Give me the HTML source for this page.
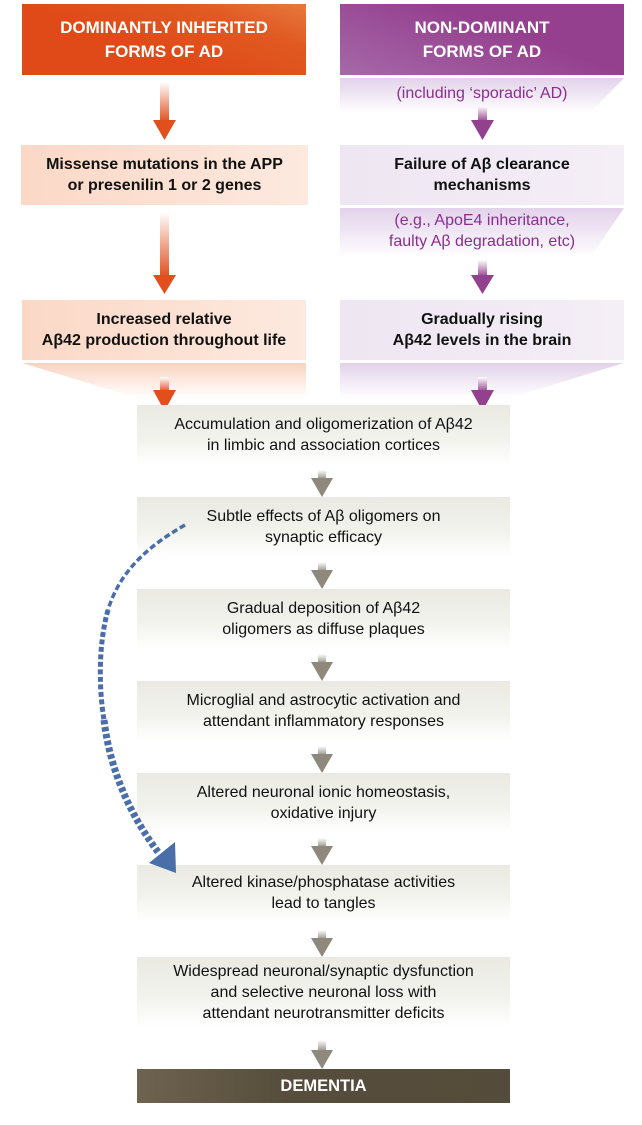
<!DOCTYPE html>
<html><head><meta charset="utf-8"><style>
body{margin:0;width:642px;height:1125px;background:#fff;position:relative;font-family:"Liberation Sans",Arial,sans-serif;overflow:hidden}
.a{position:absolute;box-sizing:border-box;text-align:center;display:flex;align-items:center;justify-content:center;flex-direction:column}
.hd{color:#fff;font-weight:bold;font-size:17px;line-height:24px}
.bx{font-weight:bold;font-size:16px;line-height:21px;color:#111}
.cb{left:137px;width:373px;font-size:16px;line-height:21px;color:#111;background:linear-gradient(#eaeae3,#f3f3ee 60%,#fff)}
.pv{color:#8a2f8f;font-size:16px;line-height:21px}
</style></head><body>
<div class="a hd" style="left:22px;top:4px;width:284px;height:71px;background:linear-gradient(200deg,#e8783e 0%,#e05a22 25%,#df4a18 60%)">DOMINANTLY INHERITED<br>FORMS OF AD</div>
<div class="a hd" style="left:340px;top:4px;width:284px;height:71px;background:linear-gradient(200deg,#95408f 40%,#a669a8 100%)">NON-DOMINANT<br>FORMS OF AD</div>

<svg style="position:absolute;left:0;top:0" width="642" height="1125">
<defs>
<linearGradient id="pf" x1="0" y1="0" x2="0" y2="1"><stop offset="0" stop-color="#e2d2ea"/><stop offset="1" stop-color="#fff"/></linearGradient>
<linearGradient id="of" x1="0" y1="0" x2="0" y2="1"><stop offset="0" stop-color="#f9d3c0"/><stop offset="1" stop-color="#fff"/></linearGradient>
<linearGradient id="os" x1="0" y1="0" x2="0" y2="1"><stop offset="0" stop-color="#fff"/><stop offset="1" stop-color="#e14f1d"/></linearGradient>
<linearGradient id="ps" x1="0" y1="0" x2="0" y2="1"><stop offset="0" stop-color="#fff"/><stop offset="1" stop-color="#93418e"/></linearGradient>
<linearGradient id="gs" x1="0" y1="0" x2="0" y2="1"><stop offset="0" stop-color="#fff"/><stop offset="1" stop-color="#8e897c"/></linearGradient>
</defs>
<polygon points="340,78 624,78 590,113 340,113" fill="url(#pf)"/>
<polygon points="340,208 624,208 590,258 340,258" fill="url(#pf)"/>
<polygon points="22,363 306,363 306,398 137,398" fill="url(#of)"/>
<polygon points="340,363 624,363 510,398 340,398" fill="url(#pf)"/>
<rect x="160" y="82" width="9" height="40" fill="url(#os)"/><polygon points="153,120 176,120 164.5,140" fill="#e14f1d"/>
<rect x="160" y="212" width="9" height="65" fill="url(#os)"/><polygon points="153,275 176,275 164.5,294" fill="#e14f1d"/>
<rect x="160" y="377" width="9" height="15" fill="url(#os)"/><polygon points="153,390 176,390 164.5,411" fill="#e14f1d"/>
<rect x="478" y="106" width="9" height="16" fill="url(#ps)"/><polygon points="471,120 494,120 482.5,140" fill="#93418e"/>
<rect x="478" y="260" width="9" height="17" fill="url(#ps)"/><polygon points="471,275 494,275 482.5,294" fill="#93418e"/>
<rect x="478" y="377" width="9" height="15" fill="url(#ps)"/><polygon points="471,390 494,390 482.5,411" fill="#93418e"/>
</svg>

<div class="a pv" style="left:340px;top:78px;width:284px;height:30px">(including ‘sporadic’ AD)</div>
<div class="a bx" style="left:21px;top:145px;width:287px;height:60px;background:linear-gradient(90deg,#fbd8c6,#fde9df)">Missense mutations in the APP<br>or presenilin 1 or 2 genes</div>
<div class="a bx" style="left:340px;top:145px;width:284px;height:60px;background:linear-gradient(90deg,#eee6f2,#f4eef7)">Failure of Aβ clearance<br>mechanisms</div>
<div class="a pv" style="left:340px;top:208px;width:284px;height:46px">(e.g., ApoE4 inheritance,<br>faulty Aβ degradation, etc)</div>
<div class="a bx" style="left:22px;top:300px;width:284px;height:60px;background:linear-gradient(90deg,#fbd8c6,#fde9df)">Increased relative<br>Aβ42 production throughout life</div>
<div class="a bx" style="left:340px;top:300px;width:284px;height:60px;background:linear-gradient(90deg,#eee6f2,#f4eef7)">Gradually rising<br>Aβ42 levels in the brain</div>

<div class="a cb" style="top:405px;height:60px">Accumulation and oligomerization of Aβ42<br>in limbic and association cortices</div>
<div class="a cb" style="top:497px;height:60px">Subtle effects of Aβ oligomers on<br>synaptic efficacy</div>
<div class="a cb" style="top:589px;height:60px">Gradual deposition of Aβ42<br>oligomers as diffuse plaques</div>
<div class="a cb" style="top:681px;height:60px">Microglial and astrocytic activation and<br>attendant inflammatory responses</div>
<div class="a cb" style="top:773px;height:60px">Altered neuronal ionic homeostasis,<br>oxidative injury</div>
<div class="a cb" style="top:865px;height:56px">Altered kinase/phosphatase activities<br>lead to tangles</div>
<div class="a cb" style="top:957px;height:70px">Widespread neuronal/synaptic dysfunction<br>and selective neuronal loss with<br>attendant neurotransmitter deficits</div>
<div class="a" style="left:137px;top:1069px;width:373px;height:34px;background:linear-gradient(90deg,#6e6350,#574d3c 40%,#554b3a);color:#fff;font-weight:bold;font-size:16.5px">DEMENTIA</div>

<svg style="position:absolute;left:0;top:0" width="642" height="1125">
<g fill="#8e897c">
<rect x="318" y="470" width="8" height="10" fill="url(#gs)"/><polygon points="311,478 333,478 322,497"/>
<rect x="318" y="562" width="8" height="10" fill="url(#gs)"/><polygon points="311,570 333,570 322,589"/>
<rect x="318" y="654" width="8" height="10" fill="url(#gs)"/><polygon points="311,662 333,662 322,681"/>
<rect x="318" y="746" width="8" height="10" fill="url(#gs)"/><polygon points="311,754 333,754 322,773"/>
<rect x="318" y="838" width="8" height="10" fill="url(#gs)"/><polygon points="311,846 333,846 322,865"/>
<rect x="318" y="930" width="8" height="10" fill="url(#gs)"/><polygon points="311,938 333,938 322,957"/>
<rect x="318" y="1040" width="8" height="12" fill="url(#gs)"/><polygon points="311,1050 333,1050 322,1069"/>
</g>
<g fill="none" stroke="#4a6ea8">
<path d="M185,525 C150,545 120,570 108,610" stroke-width="3.5" stroke-dasharray="6,3"/>
<path d="M108,610 C98,645 99,690 104,720" stroke-width="5" stroke-dasharray="5,2.5"/>
<path d="M104,720 C110,770 130,815 158,852" stroke-width="7" stroke-dasharray="4.5,2.5"/>
</g>
<polygon points="149,863 175,842 176,873" fill="#4a6ea8"/>
</svg>
</body></html>
